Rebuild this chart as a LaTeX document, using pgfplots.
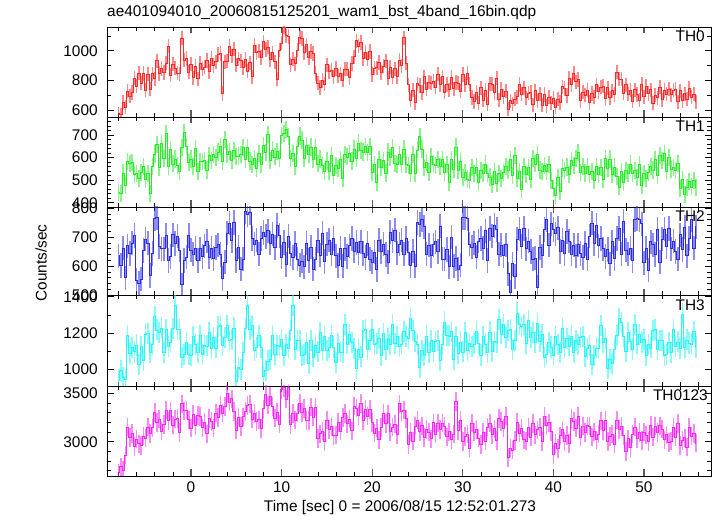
\documentclass[border=0pt]{standalone}
\usepackage{fontspec}
\setmainfont{Liberation Sans}
\usepackage{pgfplots}
\usepackage{pgfplotstable}
\pgfplotsset{compat=1.18}

\definecolor{cA}{RGB}{255,40,40}
\definecolor{cB}{RGB}{40,235,40}
\definecolor{cC}{RGB}{45,45,230}
\definecolor{cD}{RGB}{40,245,245}
\definecolor{cE}{RGB}{245,40,245}

% x  TH0  TH1  TH2  TH3  TH0123
\pgfplotstableread{
x a b c d e
-8 575 444 636 940 2680
-7.75 568 442 602 993 2740
-7.5 654 532 662 956 2708
-7.25 620 478 560 942 2860
-7 727 584 670 1186 3152
-6.75 695 573 644 1090 3044
-6.5 718 578 680 1122 3084
-6.25 814 525 706 1099 2952
-6 760 528 552 1134 3028
-5.75 848 506 542 1025 2978
-5.5 781 535 556 1128 2960
-5.25 846 562 654 1048 3056
-5 735 505 694 1195 3038
-4.75 842 530 680 1200 3152
-4.5 742 442 568 1091 3084
-4.25 845 561 644 1137 3144
-4 810 616 764 1291 3300
-3.75 932 658 768 1217 3200
-3.5 846 558 668 1204 3232
-3.25 880 662 660 1228 3110
-3 853 596 660 1094 3178
-2.75 915 707 706 1220 3326
-2.5 1032 562 620 1128 3216
-2.25 836 635 634 1151 3318
-2 910 572 708 1226 3172
-1.75 882 594 678 1355 3232
-1.5 849 565 704 1222 3240
-1.25 844 538 656 1222 3094
-1 1085 645 536 1065 3392
-0.75 938 710 620 1080 3318
-0.5 948 648 632 1149 3326
-0.25 855 579 706 1083 3226
0 910 594 656 1079 3140
0.25 818 562 642 1183 3280
0.5 894 642 662 1136 3168
0.75 810 538 620 1092 3270
1 917 584 660 1186 3262
1.25 875 583 634 1080 3144
1.5 888 588 670 1132 3204
1.75 934 545 686 1129 3082
2 860 608 632 1204 3238
2.25 948 586 662 1115 3208
2.5 901 615 626 1178 3140
2.75 926 602 664 1118 3296
3 975 625 674 1235 3248
3.25 982 650 640 1240 3372
3.5 712 582 558 1131 3294
3.75 925 681 614 1177 3364
4 930 616 714 1241 3500
4.25 1032 628 748 1157 3410
4.5 966 588 688 1164 3442
4.75 1010 632 750 1228 3310
5 903 606 620 934 3118
5.25 945 607 666 1010 3256
5.5 932 612 590 998 3156
5.75 886 645 624 1091 3258
6 940 592 788 1226 3312
6.25 862 644 778 1355 3372
6.5 919 585 784 1222 3390
6.75 824 568 696 1242 3234
7 1035 595 676 1105 3292
7.25 988 550 690 1120 3208
7.5 998 618 642 1189 3226
7.75 955 569 696 1123 3136
8 1060 654 716 959 3340
8.25 1008 622 702 993 3490
8.5 1024 702 722 1046 3378
8.75 940 588 680 1052 3470
9 987 634 710 1186 3362
9.25 925 603 664 1080 3244
9.5 808 628 740 1132 3304
9.75 1004 595 706 1129 3182
10 1050 698 632 1164 3538
10.25 1158 706 682 1075 3558
10.5 1101 725 606 1138 3440
10.75 1096 692 704 1118 3556
11 905 595 644 1215 3178
11.25 942 620 630 1350 3292
11.5 912 562 678 1111 3224
11.75 1005 651 624 1157 3294
12 1090 696 604 1161 3400
12.25 1082 678 618 1077 3300
12.5 986 598 598 1084 3342
12.75 1040 652 680 1148 3220
13 953 616 620 1034 3218
13.25 995 647 666 1160 3356
13.5 982 592 590 1068 3256
13.75 846 645 624 1131 3358
14 780 572 688 1096 3032
14.25 752 594 638 1205 3082
14.5 799 565 714 1102 3110
14.75 774 538 616 1182 3004
15 905 585 676 1105 3222
15.25 858 540 690 1120 3128
15.5 868 608 642 1189 3156
15.75 825 519 696 1123 3066
16 880 564 636 1039 3070
16.25 828 552 602 1143 3200
16.5 844 592 662 1096 3108
16.75 800 508 600 1092 3250
17 877 614 660 1246 3292
17.25 875 603 634 1140 3184
17.5 818 618 670 1192 3234
17.75 914 585 696 1149 3112
18 960 638 652 1114 3368
18.25 1068 596 682 1005 3348
18.5 1031 665 646 1108 3270
18.75 1056 632 684 1068 3396
19 945 625 644 1215 3218
19.25 992 650 630 1220 3332
19.5 942 622 678 1111 3264
19.75 995 651 624 1157 3334
20 840 536 614 1221 3200
20.25 882 568 648 1137 3090
20.5 886 488 588 1144 3142
20.75 920 592 690 1168 3020
21 853 556 650 1074 3148
21.25 895 587 676 1200 3296
21.5 932 532 640 1108 3186
21.75 816 625 614 1171 3288
22 890 602 718 1136 3102
22.25 822 644 688 1245 3152
22.5 879 575 724 1142 3180
22.75 824 568 646 1182 3074
23 935 615 676 1125 3392
23.25 898 570 690 1140 3308
23.5 1088 638 642 1209 3326
23.75 915 569 696 1183 3236
24 770 564 646 1169 2970
24.25 668 532 602 1283 3100
24.5 734 612 652 1216 3008
24.75 650 528 600 1152 3160
25 777 634 750 1136 3222
25.25 765 693 744 1010 3104
25.5 718 638 760 1102 3164
25.75 824 555 736 1079 3042
26 740 578 642 1184 3128
26.25 788 536 672 1095 3098
26.5 781 605 636 1158 3030
26.75 796 572 674 1098 3196
27 755 565 684 1155 3078
27.25 842 590 650 1160 3192
27.5 772 562 738 1051 3124
27.75 825 591 624 1137 3194
28 720 536 624 1261 3160
28.25 772 568 658 1187 3050
28.5 736 488 598 1184 3102
28.75 820 592 700 1208 3020
29 743 546 600 1054 3078
29.25 785 647 626 1180 3416
29.5 782 542 590 1088 3116
29.75 726 585 604 1151 3218
30 840 512 768 1096 3002
30.25 772 534 768 1205 3052
30.5 849 505 764 1102 3080
30.75 774 498 676 1142 2934
31 685 555 666 1125 3192
31.25 658 530 680 1140 3098
31.5 718 558 632 1209 3126
31.75 645 489 686 1143 3036
32 750 544 696 1079 2970
32.25 668 532 662 1183 3100
32.5 734 572 722 1136 3008
32.75 640 528 620 1092 3150
33 777 514 730 1206 3192
33.25 775 483 704 1100 3074
33.5 718 538 740 1152 3134
33.75 814 485 726 1149 3012
34 670 528 642 1274 3238
34.25 738 506 672 1195 3208
34.5 691 535 636 1248 3140
34.75 726 562 674 1178 3266
35 605 545 574 1215 2838
35.25 662 590 510 1220 2932
35.5 642 522 608 1111 2914
35.75 675 611 564 1157 3014
36 690 506 694 1311 3200
36.25 772 538 728 1247 3090
36.5 706 458 668 1234 3142
36.75 750 562 730 1248 3020
37 683 526 660 1144 3008
37.25 715 557 686 1270 3146
37.5 722 502 650 1178 3046
37.75 636 595 624 1201 3188
38 730 572 628 1146 3072
38.25 662 614 528 1255 3122
38.5 709 545 664 1152 3150
38.75 634 538 636 1192 3004
39 705 565 726 1065 3262
39.25 628 540 760 1080 3168
39.5 688 568 672 1149 3196
39.75 645 499 746 1123 3106
40 680 464 726 1079 2870
40.25 618 432 712 1183 2980
40.5 674 512 732 1136 2928
40.75 650 448 650 1092 3060
41 757 554 690 1226 3122
41.25 745 543 644 1120 3004
41.5 698 558 720 1172 3064
41.75 814 525 686 1129 2982
42 770 588 642 1184 3238
42.25 848 566 672 1095 3208
42.5 791 595 636 1158 3140
42.75 806 622 674 1138 3266
43 665 535 644 1175 3048
43.25 722 560 630 1180 3162
43.5 702 532 678 1071 3094
43.75 735 561 624 1117 3164
44 650 526 704 1131 3160
44.25 712 538 748 1027 3050
44.5 686 498 678 1074 3102
44.75 770 562 740 1118 3020
45 723 526 670 1114 3078
45.25 755 557 696 1240 3216
45.5 762 502 660 1148 3116
45.75 676 595 634 1171 3218
46 750 552 658 1006 3002
46.25 682 594 608 1055 3052
46.5 729 525 684 1032 3080
46.75 704 558 626 1112 2974
47 855 515 696 1185 3222
47.25 808 470 730 1280 3128
47.5 808 538 642 1259 3156
47.75 715 489 756 1183 3066
48 770 544 656 1099 2900
48.25 708 532 642 1203 3030
48.5 734 572 662 1156 2938
48.75 660 528 620 1112 3080
49 737 544 760 1246 3152
49.25 705 513 764 1140 3034
49.5 668 568 760 1192 3094
49.75 774 475 746 1149 3012
50 690 528 612 1164 3098
50.25 758 506 662 1075 3068
50.5 711 535 586 1138 3000
50.75 736 562 684 1118 3166
51 645 545 674 1215 3048
51.25 702 590 640 1220 3162
51.5 682 522 728 1111 3094
51.75 755 611 614 1157 3164
52 670 586 694 1161 3130
52.25 732 618 728 1077 3020
52.5 706 538 668 1084 3072
52.75 740 602 730 1148 2990
53 703 546 660 1094 3008
53.25 735 557 686 1220 3146
53.5 742 542 650 1128 3046
53.75 656 575 624 1151 3188
54 730 462 708 1116 2962
54.25 662 504 658 1305 3012
54.5 709 435 734 1122 3040
54.75 674 468 636 1162 2944
55 745 495 696 1145 3152
55.25 688 470 760 1140 3058
55.5 708 498 662 1209 3086
55.75 655 469 736 1123 2986
}\datatable

\newcommand{\fs}{\fontsize{15.4}{18}\selectfont}

\pgfplotsset{
  panel/.style={
    scale only axis, width=604pt,
    anchor=south west,
    xmin=-9.27, xmax=57.4,
    xtick={0,10,20,30,40,50},
    minor xtick={-8,-6,-4,-2,2,4,6,8,12,14,16,18,22,24,26,28,32,34,36,38,42,44,46,48,52,54,56},
    tick align=inside,
    major tick length=6.5pt, minor tick length=4pt,
    tick style={black, line width=0.6pt},
    major x tick style={draw=black!65, line width=1.2pt},
    axis line style={line width=0.9pt},
    /pgf/number format/assume math mode=true,
    /pgf/number format/set thousands separator={},
    tick label style={font=\fs},
    yticklabel style={xshift=-4pt},
    clip=true,
  },
  inner/.style={panel, xticklabels={}},
  serie/.style={color=#1, line width=0.8pt, const plot mark mid, mark=none},
}
\tikzset{lab/.style={anchor=north east, inner sep=0pt, font=\fs}}

\begin{document}
\fs
\begin{tikzpicture}
\path[use as bounding box] (-107pt,-40pt) rectangle (610pt,476pt);

% TH0
\begin{axis}[inner, at={(0pt,359pt)}, height=90pt,
  ymin=553, ymax=1160, ytick={600,800,1000}, minor ytick={600,700,...,1100}]
\addplot[serie=cA, error bars/.cd, y dir=both, y fixed=48, error mark=none,
  error bar style={line width=1.6pt, draw=cA, opacity=0.55}] table[x=x, y=a] {\datatable};
\node[lab] at (rel axis cs:1,1) [xshift=-6pt, yshift=-4pt] {TH0};
\end{axis}

% TH1
\begin{axis}[inner, at={(0pt,269pt)}, height=90pt,
  ymin=381, ymax=780, ytick={400,500,600,700}, minor ytick={400,420,...,780}]
\addplot[serie=cB, error bars/.cd, y dir=both, y fixed=38, error mark=none,
  error bar style={line width=1.6pt, draw=cB, opacity=0.55}] table[x=x, y=b] {\datatable};
\node[lab] at (rel axis cs:1,1) [xshift=-6pt, yshift=-4pt] {TH1};
\end{axis}

% TH2
\begin{axis}[inner, at={(0pt,180.5pt)}, height=88.5pt,
  ymin=499, ymax=804, ytick={500,600,700,800}, minor ytick={500,520,...,800}]
\addplot[serie=cC, error bars/.cd, y dir=both, y fixed=42, error mark=none,
  error bar style={line width=1.6pt, draw=cC, opacity=0.55}] table[x=x, y=c] {\datatable};
\node[lab] at (rel axis cs:1,1) [xshift=-6pt, yshift=-4pt] {TH2};
\end{axis}

% TH3
\begin{axis}[inner, at={(0pt,90pt)}, height=90.5pt,
  ymin=908, ymax=1407, ytick={1000,1200,1400}, minor ytick={1000,1100,...,1400}]
\addplot[serie=cD, error bars/.cd, y dir=both, y fixed=58, error mark=none,
  error bar style={line width=1.6pt, draw=cD, opacity=0.55}] table[x=x, y=d] {\datatable};
\node[lab] at (rel axis cs:1,1) [xshift=-6pt, yshift=-4pt] {TH3};
\end{axis}

% TH0123
\begin{axis}[panel, at={(0pt,0pt)}, height=90pt,
  ymin=2646, ymax=3575, ytick={3000,3500}, minor ytick={2700,2800,...,3500}]
\addplot[serie=cE, error bars/.cd, y dir=both, y fixed=95, error mark=none,
  error bar style={line width=1.6pt, draw=cE, opacity=0.55}] table[x=x, y=e] {\datatable};
\node[lab] at (rel axis cs:1,1) [xshift=-3pt, yshift=-4pt] {TH0123};
\end{axis}

\node[anchor=base west, inner sep=0pt] at (0pt,459pt) {ae401094010\_20060815125201\_wam1\_bst\_4band\_16bin.qdp};
\node[anchor=base, inner sep=0pt] at (293pt,-36pt) {Time [sec] 0 = 2006/08/15 12:52:01.273};
\node[rotate=90, inner sep=0pt] at (-66pt,213pt) {Counts/sec};
\end{tikzpicture}
\end{document}
